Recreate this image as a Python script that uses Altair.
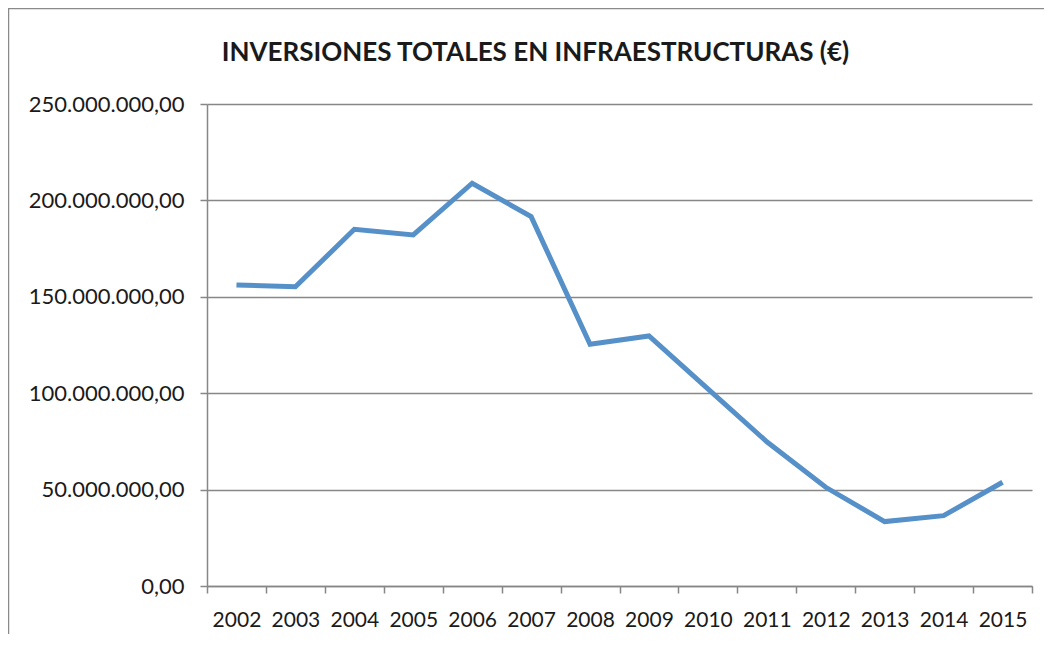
import altair as alt
import pandas as pd

years = [2002, 2003, 2004, 2005, 2006, 2007, 2008, 2009, 2010, 2011, 2012, 2013, 2014, 2015]
values_m = [156.1, 155.2, 185.0, 182.1, 208.9, 191.6, 125.4, 129.7, 102.2, 74.8, 51.2, 33.4, 36.5, 53.8]
y_ticks = [0, 50_000_000, 100_000_000, 150_000_000, 200_000_000, 250_000_000]
title_text = "INVERSIONES TOTALES EN INFRAESTRUCTURAS (€)"

df = pd.DataFrame({"year": years, "value": [v * 1_000_000 for v in values_m]})

W, H = 825, 482
step = W / len(years)
x_ticks = [y - 0.5 for y in years] + [years[-1] + 0.5]

FONT = "Lato"
GRID = "#878787"

line = alt.Chart(df).mark_line(color="#5690C9", strokeWidth=5, strokeJoin="miter").encode(
    x=alt.X(
        "year:Q",
        scale=alt.Scale(domain=[years[0] - 0.5, years[-1] + 0.5], nice=False, zero=False),
        axis=alt.Axis(
            title=None,
            values=x_ticks,
            grid=False,
            labelExpr=f"datum.value < {years[-1]} ? toString(datum.value + 0.5) : ''",
            labelOffset=step / 2,
            labelFlush=False,
            labelOverlap=False,
            labelAlign="center",
            tickSize=7,
            tickColor=GRID,
            tickWidth=1.5,
            domainColor=GRID,
            domainWidth=1.5,
            labelPadding=16,
            labelFontSize=21,
            labelFont=FONT,
            labelColor="#1a1a1a",
        ),
    ),
    y=alt.Y(
        "value:Q",
        scale=alt.Scale(domain=[0, 250_000_000], nice=False),
        axis=alt.Axis(
            title=None,
            values=y_ticks,
            grid=True,
            gridColor=GRID,
            gridWidth=1.5,
            labelExpr="replace(format(datum.value, ',.0f'), regexp(',', 'g'), '.') + ',00'",
            tickSize=7,
            tickColor=GRID,
            tickWidth=1.5,
            domainColor=GRID,
            domainWidth=1.5,
            labelPadding=16,
            labelFontSize=22,
            labelFont=FONT,
            labelColor="#1a1a1a",
        ),
    ),
)

border = alt.Chart(alt.Data(values=[{}])).mark_rect(
    fill=None, fillOpacity=0, stroke="#8a8a8a", strokeWidth=2.5, clip=False
).encode(
    x=alt.value(-199), x2=alt.value(W + 60), y=alt.value(-96), y2=alt.value(H + 80)
)

chart = alt.layer(border, line).properties(
    width=W,
    height=H,
    padding={"left": 199, "top": 96, "right": 12, "bottom": 48},
    autosize=alt.AutoSizeParams(type="none"),
    title=alt.TitleParams(
        title_text,
        font=FONT,
        fontSize=26,
        fontWeight="bold",
        color="#1a1a1a",
        anchor="middle",
        dx=-84,
        offset=0,
        dy=59,
    ),
    background="white",
).configure_view(stroke=None)

chart.save("out.html", embed_options={"renderer": "svg", "actions": False})
